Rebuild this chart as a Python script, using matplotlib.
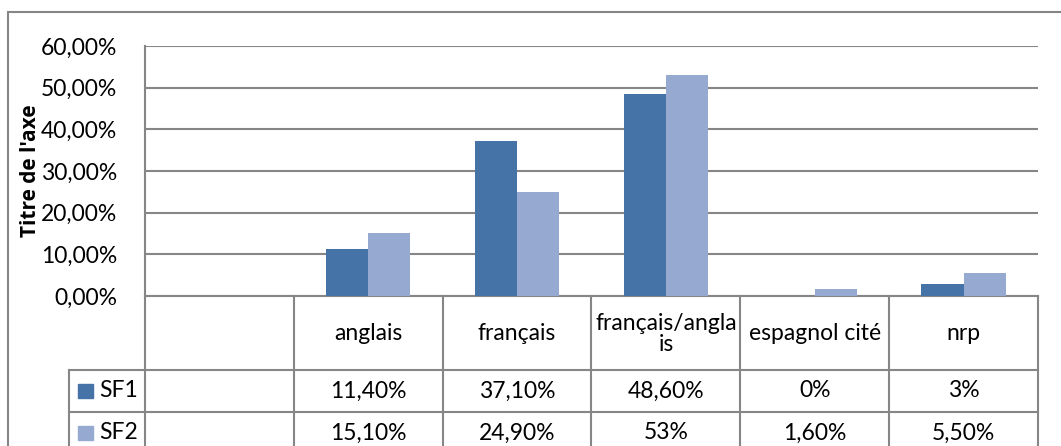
import textwrap
import numpy as np
import matplotlib
matplotlib.use("Agg")
import matplotlib.pyplot as plt
from matplotlib.ticker import FuncFormatter

categories = ["", "anglais", "français", "français/anglais", "espagnol cité", "nrp"]
series = ["SF1", "SF2"]
sf1 = [np.nan, 11.4, 37.1, 48.6, 0.0, 3.0]
sf2 = [np.nan, 15.1, 24.9, 53.0, 1.6, 5.5]
sf1_labels = ["", "11,40%", "37,10%", "48,60%", "0%", "3%"]
sf2_labels = ["", "15,10%", "24,90%", "53%", "1,60%", "5,50%"]
colors = ["#4572A7", "#95A9D1"]

plt.rcParams["font.family"] = ["Lato", "DejaVu Sans"]
FS = 16.5
GRID = "#868686"

W, H = 1061, 446
fig = plt.figure(figsize=(W / 100, H / 100), dpi=100)

def px(x0, y0, x1, y1):
    return [x0 / W, 1 - y1 / H, (x1 - x0) / W, (y1 - y0) / H]

# outer chart border
fig.patches.append(plt.Rectangle((8 / W, -0.1), 1.2, 1.1 - 12 / H, transform=fig.transFigure,
                                 fill=False, edgecolor=GRID, lw=1.5))

L, R, T, B = 145, 1038, 46, 296
ax = fig.add_axes(px(L, T, R, B))
n = len(categories)
x = np.arange(n)
w = 0.283
ax.bar(x - w / 2, sf1, w, color=colors[0], zorder=3)
ax.bar(x + w / 2, sf2, w, color=colors[1], zorder=3)
ax.set_xlim(-0.5, n - 0.5)
ax.set_ylim(0, 60)
ax.set_yticks(np.arange(0, 61, 10))
ax.yaxis.set_major_formatter(FuncFormatter(lambda v, p: f"{v:.2f}%".replace(".", ",")))
ax.tick_params(axis="y", length=0, labelsize=FS, pad=20)
ax.set_xticks([])
ax.grid(axis="y", color=GRID, lw=1.5, zorder=0)
for s in ["top", "right"]:
    ax.spines[s].set_visible(False)
for s in ["left", "bottom"]:
    ax.spines[s].set_color(GRID)
    ax.spines[s].set_linewidth(1.5)
fig.text(31 / W, 1 - 171 / H, "Titre de l'axe", rotation=90, fontsize=15,
         family="Open Sans", fontweight="bold", ha="center", va="center")

# data table
tab = fig.add_axes(px(L, B, R, H))
tab.set_xlim(-0.5, n - 0.5)
tab.set_ylim(H, B)
tab.axis("off")
cw = (R - L) / n
leg_left = -0.5 - (L - 69) / cw
rows = [B, 370, 412, 454]
kw = dict(color=GRID, lw=1.5, clip_on=False)
for xb in np.arange(-0.5, n, 1.0):
    tab.plot([xb, xb], [B, H + 5], **kw)
tab.plot([leg_left, leg_left], [rows[1], H + 5], **kw)
tab.plot([leg_left, n - 0.5], [rows[1], rows[1]], **kw)
tab.plot([leg_left, n - 0.5], [rows[2], rows[2]], **kw)

for i, c in enumerate(categories):
    tab.text(i, (rows[0] + rows[1]) / 2 + 1, textwrap.fill(c, 14), ha="center", va="center",
             fontsize=FS, linespacing=1.0)
for r, (name, labs) in enumerate(zip(series, [sf1_labels, sf2_labels])):
    yc = (rows[r + 1] + rows[r + 2]) / 2
    for i, lab in enumerate(labs):
        tab.text(i, yc, lab, ha="center", va="center", fontsize=FS)
    kx = leg_left + 9 / cw
    tab.add_patch(plt.Rectangle((kx, yc - 7), 15 / cw, 14,
                                color=colors[r], clip_on=False))
    tab.text(kx + 21 / cw, yc, name, ha="left", va="center", fontsize=FS)

fig.savefig("out.png", dpi=100)
